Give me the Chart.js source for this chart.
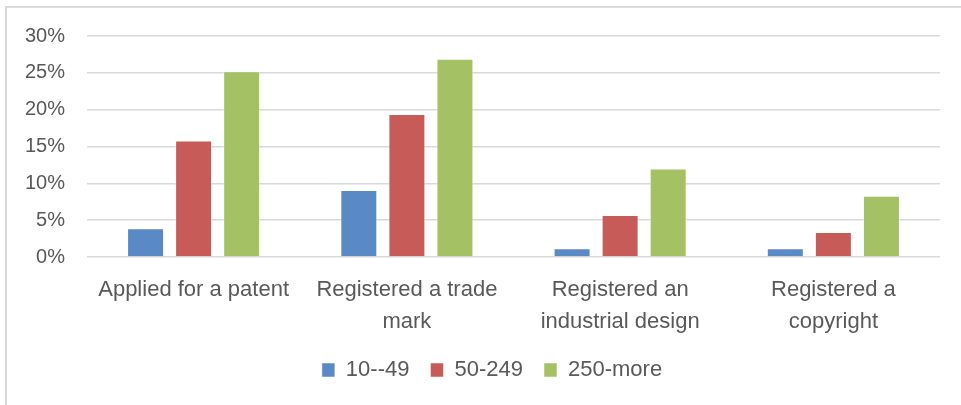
<!DOCTYPE html>
<html>
<head>
<meta charset="utf-8">
<script src="https://cdn.jsdelivr.net/npm/chart.js@4"></script>
<style>
    html, body { margin: 0; padding: 0; background: #ffffff; }
    /* a moldura aparece so em cima e a esquerda na imagem original (recortada) */
    #moldura {
        position: absolute; left: 5px; top: 6px; width: 1000px; height: 450px;
        border-top: 2px solid #d9d9d9; border-left: 2px solid #d9d9d9;
    }
    #area { position: absolute; left: 0; top: 0; width: 961px; height: 405px; }
</style>
</head>
<body>
<div id="moldura"></div>
<div id="area"><canvas id="grafico"></canvas></div>
<script>
// categorias do eixo x (quebradas em linhas como no original)
const categorias = [
    'Applied for a patent',
    ['Registered a trade', 'mark'],
    ['Registered an', 'industrial design'],
    ['Registered a', 'copyright']
];

// valores em % por tamanho de empresa
const pequenas = [3.9, 9.1, 1.2, 1.2];     // 10--49
const medias = [15.8, 19.4, 5.7, 3.4];     // 50-249
const grandes = [25.2, 26.9, 12.0, 8.3];   // 250-more

const nomesSeries = ['10--49', '50-249', '250-more'];
const coresSeries = ['#5a8ac6', '#c65b58', '#a4c263'];

const corTexto = '#595959';
const fonte = 'Liberation Sans, Arial, sans-serif';

function criaSerie(nome, valores, cor) {
    return {
        label: nome,
        data: valores,
        backgroundColor: cor,
        borderColor: 'rgba(255,255,255,0.5)',
        borderWidth: 1,
        categoryPercentage: 0.676,
        barPercentage: 0.77
    };
}

const ctx = document.querySelector('#grafico');

new Chart(ctx, {
    type: 'bar',
    data: {
        labels: categorias,
        datasets: [
            criaSerie(nomesSeries[0], pequenas, coresSeries[0]),
            criaSerie(nomesSeries[1], medias, coresSeries[1]),
            criaSerie(nomesSeries[2], grandes, coresSeries[2])
        ]
    },
    options: {
        responsive: true,
        maintainAspectRatio: false,
        animation: false,
        // padding esquerdo maior so para a legenda ficar centrada como no original
        layout: { padding: { left: 44, right: 21, top: 36, bottom: 14 } },
        plugins: {
            tooltip: { enabled: false },
            legend: {
                position: 'bottom',
                labels: {
                    color: corTexto,
                    font: { family: fonte, size: 22 },
                    boxWidth: 13,
                    boxHeight: 14,
                    padding: 21
                }
            }
        },
        scales: {
            x: {
                afterFit: function (escala) { escala.height = 81; },
                grid: { display: false },
                border: { display: false },
                ticks: {
                    color: corTexto,
                    font: { family: fonte, size: 22, lineHeight: 1.45 },
                    padding: 9,
                    maxRotation: 0,
                    autoSkip: false
                }
            },
            y: {
                min: 0,
                max: 30,
                afterFit: function (escala) { escala.width = 43; },
                grid: { color: '#d9d9d9', lineWidth: 1.5, drawTicks: false },
                border: { display: false },
                ticks: {
                    // mirror evita o recorte dos textos; padding negativo os leva de volta para a esquerda
                    mirror: true,
                    crossAlign: 'far',
                    padding: -62,
                    stepSize: 5,
                    color: corTexto,
                    font: { family: fonte, size: 20 },
                    callback: function (valor) { return valor + '%'; }
                }
            }
        }
    }
});
</script>
</body>
</html>
